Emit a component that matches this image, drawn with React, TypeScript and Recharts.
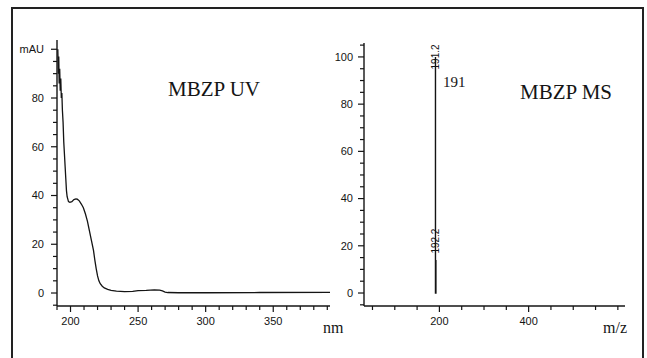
import React from 'react';
import { ComposedChart, Line, Scatter, XAxis, YAxis } from 'recharts';

// ---- UV spectrum (nm vs mAU) ----
const uvWavelength = [190.6, 191.0, 191.3, 191.6, 192.0, 192.4, 192.8, 193.2, 193.6, 194.0, 194.5, 195.0, 195.5, 196.0, 196.5, 197.0, 197.5, 198.5, 199.5, 201.0, 202.5, 204.0, 205.0, 206.5, 208.0, 209.5, 211.0, 212.5, 214.0, 215.5, 217.0, 218.0, 219.0, 220.0, 221.0, 222.0, 223.5, 225.0, 227.5, 230.0, 234.0, 240.0, 246.0, 250.0, 256.0, 262.0, 266.0, 268.0, 270.0, 272.0, 280.0, 300.0, 340.0, 392.0];
const uvAbsorbance = [100, 90, 97, 86, 92, 83, 88, 80, 82, 75, 70, 62, 57, 52, 47, 42, 39.5, 37.5, 37.2, 37.5, 38.3, 38.6, 38.5, 37.8, 36.5, 35, 32.5, 29.5, 25.5, 21.5, 17.5, 13.5, 10, 7, 5, 3.8, 2.8, 2.1, 1.5, 1.1, 0.8, 0.6, 0.7, 1.0, 1.1, 1.3, 1.2, 0.9, 0.4, 0.2, 0.1, 0.1, 0.2, 0.3];

// ---- Mass spectrum (m/z vs relative abundance) ----
const msMz = [191.2, 192.2];
const msIntensity = [100, 14];
const msLabels = ['191.2', '192.2'];
const msLabelLevel = [100, 22];

// ---- axis ticks ----
const uvXTicks = [190, 200, 210, 220, 230, 240, 250, 260, 270, 280, 290, 300, 310, 320, 330, 340, 350, 360, 370, 380, 390];
const uvXLabels = [200, 250, 300, 350];
const uvYTicks = [-5, 0, 5, 10, 15, 20, 25, 30, 35, 40, 45, 50, 55, 60, 65, 70, 75, 80, 85, 90, 95, 100];
const uvYLabels = [0, 20, 40, 60, 80];
const msXTicks = [50, 100, 150, 200, 250, 300, 350, 400, 450, 500, 550, 600];
const msXLabels = [200, 400];
const msYTicks = [-5, 0, 5, 10, 15, 20, 25, 30, 35, 40, 45, 50, 55, 60, 65, 70, 75, 80, 85, 90, 95, 100, 105];
const msYLabels = [0, 20, 40, 60, 80, 100];

const uvData = uvWavelength.map((x, i) => ({ x, y: uvAbsorbance[i] }));
const msStickData = msMz.flatMap((mz, i) => [
  { x: mz, y: 0 },
  { x: mz, y: msIntensity[i] },
  { x: mz, y: 0 },
]);
const msLabelData = msMz.map((mz, i) => ({ x: mz, y: msLabelLevel[i], label: msLabels[i] }));

const INK = '#141414';
const SANS = '"Liberation Sans", Arial, sans-serif';
const SERIF = '"Liberation Serif", "Times New Roman", serif';

const makeYTick = (labels: number[], gap: number, unitValue?: number, unitLabel?: string) => (props: any) => {
  const { x, y, payload } = props;
  const v = payload.value;
  const isUnit = unitValue !== undefined && v === unitValue;
  const major = labels.includes(v) || isUnit;
  const label = isUnit ? unitLabel : major ? String(v) : null;
  return (
    <g>
      <line x1={x} x2={x - (major ? 6 : 4)} y1={y} y2={y} stroke={INK} strokeWidth={1.2} />
      {label && (
        <text x={x - gap} y={y} dy="0.35em" textAnchor="end" fontFamily={SANS} fontSize={11} fill={INK}>
          {label}
        </text>
      )}
    </g>
  );
};

const makeXTick = (labels: number[]) => (props: any) => {
  const { x, y, payload } = props;
  const v = payload.value;
  const major = labels.includes(v);
  return (
    <g>
      <line x1={x} x2={x} y1={y} y2={y + (major ? 6 : 4)} stroke={INK} strokeWidth={1.2} />
      {major && (
        <text x={x} y={y + 19} textAnchor="middle" fontFamily={SANS} fontSize={11} fill={INK}>
          {v}
        </text>
      )}
    </g>
  );
};

const PeakLabel = (props: any) => {
  const { cx, cy, payload } = props;
  return (
    <text
      x={cx}
      y={cy}
      dy="0.35em"
      textAnchor="middle"
      transform={`rotate(-90 ${cx} ${cy})`}
      fontFamily={SANS}
      fontSize={10}
      fill={INK}
    >
      {payload.label}
    </text>
  );
};

export default function App() {
  return (
    <div style={{ position: 'absolute', left: 0, top: 0, width: 647, height: 358, background: '#fff', overflow: 'hidden' }}>
      <div style={{ position: 'absolute', left: 0, top: 0 }}>
        <ComposedChart width={647} height={358} data={uvData} margin={{ top: 40, right: 317, bottom: 0, left: 0 }}>
          <XAxis
            type="number"
            dataKey="x"
            domain={[190, 392]}
            allowDataOverflow
            ticks={uvXTicks}
            interval={0}
            height={52}
            tickSize={0}
            tickMargin={0}
            tick={makeXTick(uvXLabels)}
            axisLine={{ stroke: INK, strokeWidth: 1.4 }}
          />
          <YAxis
            type="number"
            domain={[-5.33, 103.8]}
            allowDataOverflow
            ticks={uvYTicks}
            interval={0}
            width={57}
            tickSize={0}
            tickMargin={0}
            tick={makeYTick(uvYLabels, 13, 100, 'mAU')}
            axisLine={{ stroke: INK, strokeWidth: 1.4 }}
          />
          <Line
            type="linear"
            dataKey="y"
            stroke={INK}
            strokeWidth={1.3}
            dot={false}
            activeDot={false}
            isAnimationActive={false}
          />
        </ComposedChart>
      </div>
      <div style={{ position: 'absolute', left: 0, top: 0 }}>
        <ComposedChart width={647} height={358} margin={{ top: 43, right: 22, bottom: 0, left: 324 }}>
          <XAxis
            type="number"
            dataKey="x"
            domain={[31, 616]}
            allowDataOverflow
            ticks={msXTicks}
            interval={0}
            height={52}
            tickSize={0}
            tickMargin={0}
            tick={makeXTick(msXLabels)}
            axisLine={{ stroke: INK, strokeWidth: 1.4 }}
          />
          <YAxis
            type="number"
            dataKey="y"
            domain={[-5.5, 105.9]}
            allowDataOverflow
            ticks={msYTicks}
            interval={0}
            width={40}
            tickSize={0}
            tickMargin={0}
            tick={makeYTick(msYLabels, 11)}
            axisLine={{ stroke: INK, strokeWidth: 1.4 }}
          />
          <Line
            data={msStickData}
            type="linear"
            dataKey="y"
            stroke={INK}
            strokeWidth={1.4}
            dot={false}
            activeDot={false}
            isAnimationActive={false}
          />
          <Scatter data={msLabelData} dataKey="y" shape={PeakLabel} isAnimationActive={false} />
        </ComposedChart>
      </div>
      <svg width={647} height={358} style={{ position: 'absolute', left: 0, top: 0, pointerEvents: 'none' }}>
        <path d="M12 380 L12 8 L643 8 L643 380" fill="none" stroke="#222" strokeWidth={2} />
        <text x={168} y={96} fontFamily={SERIF} fontSize={21} fill={INK}>MBZP UV</text>
        <text x={520} y={99} fontFamily={SERIF} fontSize={21} fill={INK}>MBZP MS</text>
        <text x={443} y={87} fontFamily={SERIF} fontSize={15} fill={INK}>191</text>
        <text x={323} y={333} fontFamily={SERIF} fontSize={16} fill={INK}>nm</text>
        <text x={603} y={333} fontFamily={SERIF} fontSize={16} fill={INK}>m/z</text>
      </svg>
    </div>
  );
}
